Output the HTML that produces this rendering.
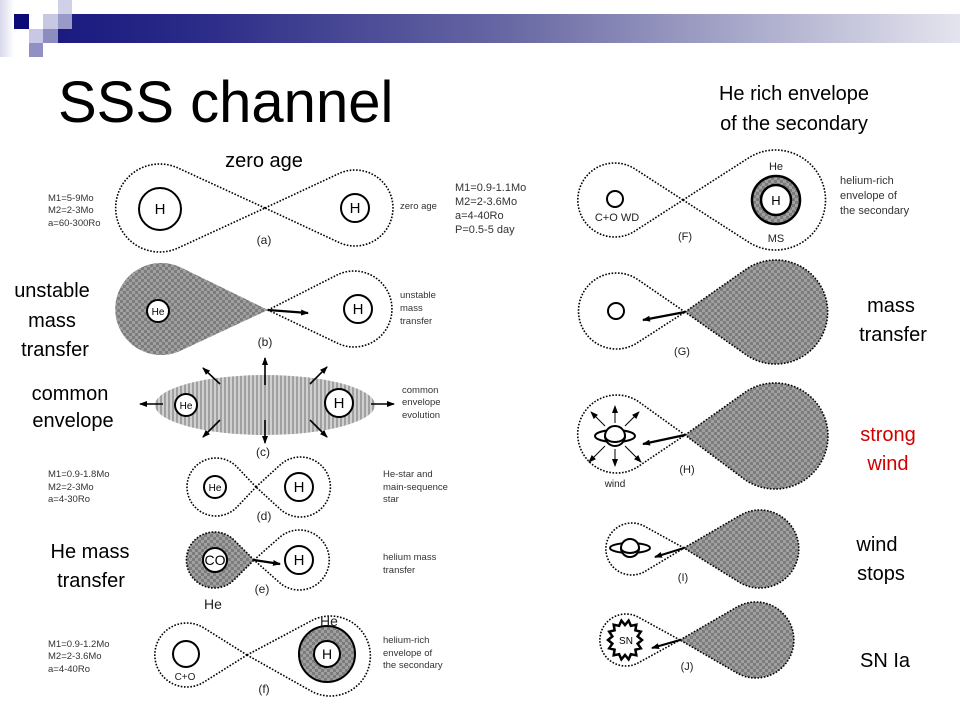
<!DOCTYPE html>
<html><head><meta charset="utf-8"><style>
html,body{margin:0;padding:0;background:#fff}
svg{display:block}
text{font-family:"Liberation Sans",sans-serif}
</style></head><body>
<svg width="960" height="720" viewBox="0 0 960 720" xmlns="http://www.w3.org/2000/svg">
<defs>
<linearGradient id="bar" x1="0" x2="1" y1="0" y2="0">
<stop offset="0" stop-color="#1a1a80"/><stop offset="0.15" stop-color="#2a2a88"/><stop offset="0.5" stop-color="#6868a4"/><stop offset="1" stop-color="#e4e4ee"/></linearGradient>
<linearGradient id="lg" x1="0" x2="1"><stop offset="0" stop-color="#d8d8ec"/><stop offset="1" stop-color="#fff"/></linearGradient>
<pattern id="chk" width="6" height="6" patternUnits="userSpaceOnUse"><rect width="6" height="6" fill="#a0a0a0"/><rect width="3" height="3" fill="#7c7c7c"/><rect x="3" y="3" width="3" height="3" fill="#7c7c7c"/></pattern>
<pattern id="str" width="4" height="4" patternUnits="userSpaceOnUse"><rect width="4" height="4" fill="#d0d0d0"/><rect width="2" height="4" fill="#a0a0a0"/></pattern>
<marker id="ar" markerWidth="8" markerHeight="8" refX="7" refY="4" orient="auto" markerUnits="userSpaceOnUse"><path d="M0,1 L8,4 L0,7 Z" fill="#000"/></marker>
</defs>
<rect x="0" y="0" width="14" height="57" fill="url(#lg)"/>
<rect x="58" y="14" width="902" height="29" fill="url(#bar)"/>
<rect x="14" y="14" width="15" height="15" fill="#0a0a78"/>
<rect x="58" y="0" width="14" height="14" fill="#d0d0e6"/>
<rect x="43" y="14" width="15" height="15" fill="#c8c8e2"/>
<rect x="58" y="14" width="14" height="15" fill="#9a9ac8"/>
<rect x="29" y="29" width="14" height="14" fill="#c8c8e6"/>
<rect x="43" y="29" width="15" height="14" fill="#8c8cc0"/>
<rect x="29" y="43" width="14" height="14" fill="#9090c4"/>

<text x="58" y="122" font-size="58">SSS channel</text>
<text x="264" y="167" font-size="20" text-anchor="middle">zero age</text>
<text x="794" y="100" font-size="20" text-anchor="middle">He rich envelope</text>
<text x="794" y="130" font-size="20" text-anchor="middle">of the secondary</text>
<g font-size="20" text-anchor="middle">
<text x="52" y="297">unstable</text><text x="52" y="327">mass</text><text x="55" y="356">transfer</text>
<text x="70" y="400">common</text><text x="73" y="427">envelope</text>
<text x="90" y="558">He mass</text><text x="91" y="587">transfer</text>
<text x="891" y="312">mass</text><text x="893" y="341">transfer</text>
<text x="888" y="441" fill="#d00000">strong</text><text x="888" y="470" fill="#d00000">wind</text>
<text x="877" y="551">wind</text><text x="881" y="580">stops</text>
<text x="885" y="667">SN Ia</text>
</g>

<g fill="none" stroke="#000" stroke-width="1.6" stroke-dasharray="1.6 1.6">
<path d="M265,208 L178,168 A44,44 0 1 0 178,248 Z"/>
<path d="M265,208 L338,174 A38,38 0 1 1 338,242 Z"/>
<path d="M268,310 L180,267 A46,46 0 1 0 180,351 Z" fill="url(#chk)" stroke="none"/>
<path d="M268,310 L337,275 A38,38 0 1 1 337,343 Z"/>
<path d="M256,487 L237,467 A29,29 0 1 0 237,507 Z"/>
<path d="M256,487 L280,465 A30,30 0 1 1 280,509 Z"/>
<path d="M254,560 L234,540 A28,28 0 1 0 234,580 Z" fill="url(#chk)"/>
<path d="M254,560 L280,537 A30,30 0 1 1 280,583 Z"/>
<path d="M247,655 L204,628 A32,32 0 1 0 204,682 Z"/>
<path d="M247,655 L311,621 A40,40 0 1 1 311,691 Z"/>
<path d="M683,200 L635,169 A37,37 0 1 0 635,231 Z"/>
<path d="M683,200 L750,157 A50,50 0 1 1 750,243 Z"/>
<path d="M685,312 L637,279 A38,38 0 1 0 637,343 Z"/>
<path d="M685,312 L745,270 A52,52 0 1 1 745,354 Z" fill="url(#chk)"/>
<path d="M685,435 L639,402 A39,39 0 1 0 639,466 Z"/>
<path d="M685,435 L744,393 A53,53 0 1 1 744,479 Z" fill="url(#chk)"/>
<path d="M684,548 L644,526 A26,26 0 1 0 644,572 Z"/>
<path d="M684,548 L739,516 A39,39 0 1 1 739,582 Z" fill="url(#chk)"/>
<path d="M680,640 L638,617 A26,26 0 1 0 638,663 Z"/>
<path d="M680,640 L737,607 A38,38 0 1 1 737,673 Z" fill="url(#chk)"/>
</g>

<ellipse cx="265" cy="405" rx="110" ry="30" fill="url(#str)"/>

<g fill="#fff" stroke="#000" stroke-width="2">
<circle cx="160" cy="209" r="21"/><circle cx="355" cy="208" r="14"/>
<circle cx="158" cy="311" r="11"/><circle cx="358" cy="309" r="14"/>
<circle cx="186" cy="405" r="11"/><circle cx="339" cy="403" r="14"/>
<circle cx="215" cy="487" r="11"/><circle cx="299" cy="487" r="14"/>
<circle cx="215" cy="560" r="12"/><circle cx="299" cy="560" r="14"/>
<circle cx="186" cy="654" r="13"/>
<circle cx="327" cy="654" r="28" fill="url(#chk)"/><circle cx="327" cy="654" r="13"/>
<circle cx="615" cy="199" r="8"/>
<circle cx="776" cy="200" r="24" fill="url(#chk)" stroke-width="2.5"/><circle cx="776" cy="200" r="15" stroke-width="2.5"/>
<circle cx="616" cy="311" r="8"/>
</g>

<g fill="none" stroke="#000" stroke-width="2">
<ellipse cx="615" cy="436" rx="20" ry="6"/><circle cx="615" cy="436" r="10" fill="#fff"/><path d="M605,436 A10,6 0 0 0 625,436"/>
<ellipse cx="630" cy="548" rx="20" ry="5"/><circle cx="630" cy="548" r="9" fill="#fff"/><path d="M621,548 A9,5 0 0 0 639,548"/>
<polygon fill="#fff" stroke-width="2.5" points="642,640 637.6,643.6 640.8,648.3 635.4,649.7 636.3,655.3 630.9,654.2 628.6,659.4 625,655 621.4,659.4 619.1,654.2 613.7,655.3 614.6,649.7 609.2,648.3 612.4,643.6 608,640 612.4,636.4 609.2,631.7 614.6,630.3 613.7,624.7 619.1,625.8 621.4,620.6 625,625 628.6,620.6 630.9,625.8 636.3,624.7 635.4,630.3 640.8,631.7 637.6,636.4"/>
</g>

<g stroke="#000" stroke-width="2.2" marker-end="url(#ar)">
<line x1="268" y1="310" x2="308" y2="313"/>
<line x1="254" y1="560" x2="280" y2="564"/>
<line x1="685" y1="312" x2="643" y2="320"/>
<line x1="685" y1="435" x2="643" y2="444"/>
<line x1="684" y1="548" x2="655" y2="557"/>
<line x1="680" y1="640" x2="652" y2="648"/>
</g>
<g stroke="#000" stroke-width="1.6" marker-end="url(#ar)">
<line x1="163" y1="404" x2="140" y2="404"/><line x1="371" y1="404" x2="394" y2="404"/>
<line x1="265" y1="385" x2="265" y2="358"/><line x1="265" y1="420" x2="265" y2="443"/>
<line x1="220" y1="384" x2="203" y2="368"/><line x1="310" y1="384" x2="327" y2="367"/>
<line x1="220" y1="420" x2="203" y2="437"/><line x1="310" y1="420" x2="327" y2="437"/>
</g>
<g stroke="#000" stroke-width="1" marker-end="url(#ar)">
<line x1="615" y1="423" x2="615" y2="406"/><line x1="615" y1="449" x2="615" y2="466"/>
<line x1="605" y1="426" x2="591" y2="412"/><line x1="625" y1="426" x2="639" y2="412"/>
<line x1="605" y1="446" x2="589" y2="462"/><line x1="625" y1="446" x2="641" y2="462"/>
</g>

<g text-anchor="middle" font-size="13">
<text x="160" y="214" font-size="15">H</text><text x="355" y="213" font-size="15">H</text>
<text x="158" y="315" font-size="10">He</text><text x="358" y="314" font-size="15">H</text>
<text x="186" y="409" font-size="10">He</text><text x="339" y="408" font-size="15">H</text>
<text x="215" y="491" font-size="10">He</text><text x="299" y="492" font-size="15">H</text>
<text x="215" y="565" font-size="14">CO</text><text x="299" y="565" font-size="15">H</text>
<text x="327" y="659" font-size="14">H</text><text x="776" y="205" font-size="13">H</text>
<text x="626" y="644" font-size="10">SN</text>
</g>
<g text-anchor="middle" font-size="12" fill="#222">
<text x="264" y="244">(a)</text><text x="265" y="346">(b)</text><text x="263" y="456">(c)</text>
<text x="264" y="520">(d)</text><text x="262" y="593">(e)</text><text x="264" y="693">(f)</text>
<text x="213" y="609" font-size="14">He</text><text x="329" y="626" font-size="14">He</text>
<text x="185" y="680" font-size="10">C+O</text>
<text x="685" y="240" font-size="11">(F)</text><text x="682" y="355" font-size="11">(G)</text>
<text x="687" y="473" font-size="11">(H)</text><text x="683" y="581" font-size="11">(I)</text><text x="687" y="670" font-size="11">(J)</text>
<text x="617" y="221" font-size="11">C+O WD</text><text x="776" y="170" font-size="11">He</text><text x="776" y="242" font-size="11">MS</text>
<text x="615" y="487" font-size="10">wind</text>
</g>
<g font-size="9.5" fill="#333">
<text x="48" y="201">M1=5-9Mo</text><text x="48" y="213">M2=2-3Mo</text><text x="48" y="226">a=60-300Ro</text>
<text x="400" y="209">zero age</text>
<text x="455" y="191" font-size="11">M1=0.9-1.1Mo</text><text x="455" y="205" font-size="11">M2=2-3.6Mo</text><text x="455" y="219" font-size="11">a=4-40Ro</text><text x="455" y="233" font-size="11">P=0.5-5 day</text>
<text x="400" y="298">unstable</text><text x="400" y="311">mass</text><text x="400" y="324">transfer</text>
<text x="402" y="393">common</text><text x="402" y="405">envelope</text><text x="402" y="418">evolution</text>
<text x="48" y="477">M1=0.9-1.8Mo</text><text x="48" y="490">M2=2-3Mo</text><text x="48" y="502">a=4-30Ro</text>
<text x="383" y="477">He-star and</text><text x="383" y="490">main-sequence</text><text x="383" y="502">star</text>
<text x="383" y="560">helium mass</text><text x="383" y="573">transfer</text>
<text x="48" y="647">M1=0.9-1.2Mo</text><text x="48" y="659">M2=2-3.6Mo</text><text x="48" y="672">a=4-40Ro</text>
<text x="383" y="643">helium-rich</text><text x="383" y="656">envelope of</text><text x="383" y="668">the secondary</text>
<text x="840" y="184" font-size="11">helium-rich</text><text x="840" y="199" font-size="11">envelope of</text><text x="840" y="214" font-size="11">the secondary</text>
</g>
</svg>
</body></html>
